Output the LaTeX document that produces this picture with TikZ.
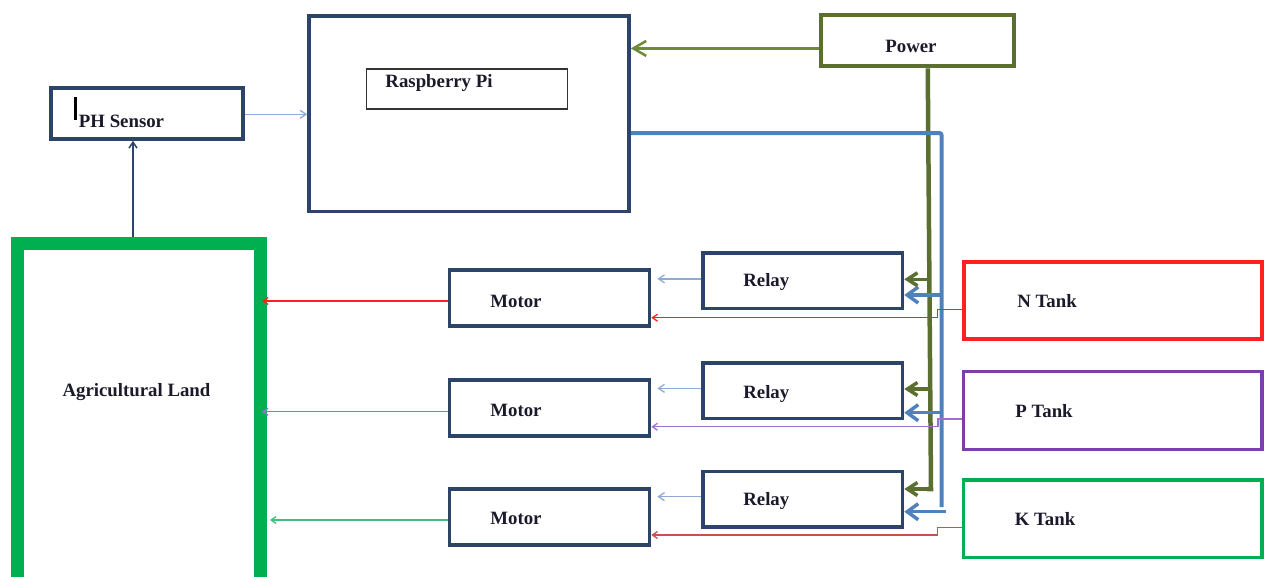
\documentclass[tikz,border=0pt]{standalone}
\usepackage{fontspec}
\setmainfont{Liberation Serif}
\usetikzlibrary{arrows.meta}
\definecolor{navy}{HTML}{2B4468}
\definecolor{lblue}{HTML}{8EACD6}
\definecolor{bblue}{HTML}{4F81BD}
\definecolor{olive}{HTML}{5B7030}
\definecolor{olivel}{HTML}{6E8A3A}
\definecolor{nred}{HTML}{FF2020}
\definecolor{ppl}{HTML}{7A3FA8}
\definecolor{pplarrow}{HTML}{A070D0}
\definecolor{kgreen}{HTML}{00B050}
\definecolor{kgreenarrow}{HTML}{40C080}
\definecolor{kred}{HTML}{C8504D}
\definecolor{txt}{HTML}{1A1A2A}
\begin{document}
\begin{tikzpicture}[x=1pt,y=-1pt,
  box/.style={draw=navy, line width=3.5pt, inner sep=0pt, fill=white},
  lbl/.style={font=\fontsize{18.8}{22}\selectfont\bfseries, inner sep=0pt, text=txt},
  thinblue/.style={draw=lblue, line width=1.3pt, -{Straight Barb[length=6pt,width=8pt]}},
  thincol/.style={line width=1.3pt, -{Straight Barb[length=5pt,width=7pt]}},
  busline/.style={draw=bblue, line width=4pt, rounded corners=2pt},
  busarrow/.style={draw=bblue, line width=3.5pt, -{Straight Barb[length=11pt,width=16pt]}},
  pwrline/.style={draw=olive, line width=4.5pt},
  pwrarrow/.style={draw=olive, line width=3.5pt, -{Straight Barb[length=10pt,width=13pt]}},
  motorbox/.style={box, minimum width=200pt, minimum height=56pt},
  relaybox/.style={box, minimum width=199.5pt, minimum height=55.7pt},
  tankbox/.style={draw=#1, line width=4pt, inner sep=0pt, fill=white, minimum width=298.5pt, minimum height=77.5pt}
]
\useasboundingbox (0,0) rectangle (1264,576);
\clip (0,0) rectangle (1264,576);

% main boxes
\node[box, minimum width=192pt, minimum height=51pt] (ph) at (147,113.5) {};
\node[box, minimum width=320pt, minimum height=195.5pt] (rpi) at (469,113.75) {};
\node[draw=black!80, line width=1.5pt, inner sep=0pt, minimum width=201pt, minimum height=40pt] (rpin) at (467.2,89) {};
\node[draw=olive, line width=4pt, inner sep=0pt, minimum width=192.5pt, minimum height=51.8pt] (power) at (917.25,40.4) {};
\node[draw=kgreen, line width=13pt, inner sep=0pt, minimum width=243pt, minimum height=357pt] (land) at (139,421.5) {};

\node[motorbox] (m1) at (549.6,298) {};
\node[motorbox] (m2) at (549.6,407.75) {};
\node[motorbox] (m3) at (549.6,517) {};
\node[relaybox] (r1) at (802.75,280.85) {};
\node[relaybox] (r2) at (802.75,390.85) {};
\node[relaybox] (r3) at (802.75,499.15) {};
\node[tankbox=nred] (nt) at (1112.75,300.35) {};
\node[tankbox=ppl, line width=3.3pt] (pt) at (1112.75,410.5) {};
\node[tankbox=kgreen, line width=3.5pt] (kt) at (1112.75,518.75) {};

% labels
\node[lbl] (phl) at (121.5,121) {PH Sensor};
\draw[line width=2.5pt, black] (75.5,97) -- (75.5,120);
\node[lbl] (rpil) at (439,83) {Raspberry Pi};
\node[lbl] (powl) at (911,46) {Power};
\node[lbl] (landl) at (136.5,392) {Agricultural Land};
\node[lbl] (m1l) at (516,301) {Motor};
\node[lbl] (m2l) at (516,410) {Motor};
\node[lbl] (m3l) at (516,518.3) {Motor};
\node[lbl] (r1l) at (766.3,282) {Relay};
\node[lbl] (r2l) at (766.3,393.5) {Relay};
\node[lbl] (r3l) at (766.3,501) {Relay};
\node[lbl] (ntl) at (1047,301) {N Tank};
\node[lbl] (ptl) at (1044,411) {P Tank};
\node[lbl] (ktl) at (1045,519) {K Tank};

% sensor and power to the Pi
\draw[thinblue] ([yshift=-0.8pt]ph.east) -- ([yshift=-0.8pt]ph.east -| rpi.west);
\draw[draw=navy, line width=1.5pt, -{Straight Barb[length=6pt,width=8pt]}] ([xshift=-6pt]land.north) -- ([xshift=-6pt]land.north |- ph.south);
\draw[draw=olivel, line width=2.5pt, -{Straight Barb[length=13pt,width=15pt]}] ([yshift=-8pt]power.west) -- ([yshift=-8pt]power.west -| rpi.east);

% power bus
\coordinate (pbot) at (931,489);
\draw[pwrline] ([xshift=10.5pt]power.south) -- (pbot) -- ++(-4,0);
\coordinate (pa1) at (929.5,279.3);
\coordinate (pa2) at (930,389);
\draw[pwrarrow] (pa1) -- (pa1 -| r1.east);
\draw[pwrarrow] (pa2) -- (pa2 -| r2.east);
\draw[pwrarrow] (pbot) -- (pbot -| r3.east);

% signal bus from the Pi
\coordinate (bbot) at (941.5,507);
\draw[busline] ([yshift=-19.3pt]rpi.east) -| (bbot);
\coordinate (ba1) at (941,295);
\coordinate (ba2) at (941.5,412.7);
\coordinate (ba3) at (946,511.7);
\draw[busarrow] (ba1) -- (ba1 -| r1.east);
\draw[busarrow] (ba2) -- (ba2 -| r2.east);
\draw[busarrow] (ba3) -- (ba3 -| r3.east);

% relay to motor
\draw[thinblue, shorten >=6pt] ([yshift=2pt]r1.west) -- ([yshift=2pt]r1.west -| m1.east);
\draw[thinblue, shorten >=6pt] ([yshift=2.5pt]r2.west) -- ([yshift=2.5pt]r2.west -| m2.east);
\draw[thinblue, shorten >=6pt] ([yshift=2.5pt]r3.west) -- ([yshift=2.5pt]r3.west -| m3.east);

% tank to motor
\draw[thincol, draw=nred] ([yshift=-9pt]nt.west) -- ++(-24,0) |- ([yshift=-19.7pt]m1.east);
\draw[thincol, draw=pplarrow] ([yshift=-8.5pt]pt.west) -- ++(-24,0) |- ([yshift=-19pt]m2.east);
\draw[thincol, draw=kred] ([yshift=-8.5pt]kt.west) -- ++(-24,0) |- ([yshift=-18pt]m3.east);

% motor to land
\draw[thincol, draw=nred, shorten >=-5pt] ([yshift=-3pt]m1.west) -- ([yshift=-3pt]m1.west -| land.east);
\draw[thincol, draw=pplarrow, shorten >=-5pt] ([yshift=-4pt]m2.west) -- ([yshift=-4pt]m2.west -| land.east);
\draw[thincol, draw=kgreenarrow, shorten >=3pt] ([yshift=-3pt]m3.west) -- ([yshift=-3pt]m3.west -| land.east);
\end{tikzpicture}
\end{document}
